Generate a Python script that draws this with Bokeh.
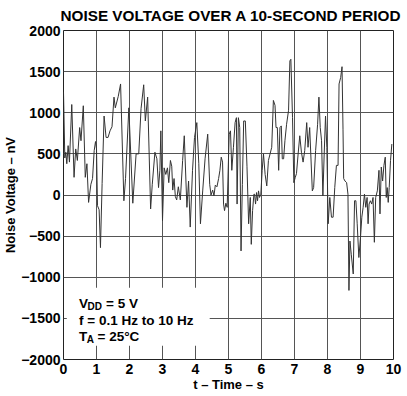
from bokeh.plotting import figure
from bokeh.models import FixedTicker, BoxAnnotation, Label
from bokeh.embed import file_html
from bokeh.resources import INLINE

# ---- data ----
time_s = [0.00, 0.04, 0.07, 0.10, 0.14, 0.18, 0.25, 0.32, 0.37, 0.42, 0.49, 0.53, 0.60, 0.66, 0.71, 0.76,
          0.83, 0.88, 0.93, 0.97, 1.00, 1.03, 1.08, 1.12, 1.17, 1.23, 1.29, 1.35, 1.41, 1.47, 1.53, 1.57,
          1.66, 1.73, 1.83, 1.88, 1.98, 2.10, 2.20, 2.28, 2.35, 2.43, 2.48, 2.55, 2.64, 2.69, 2.77, 2.83,
          2.88, 2.92, 2.95, 3.00, 3.05, 3.10, 3.15, 3.19, 3.24, 3.28, 3.31, 3.35, 3.39, 3.43, 3.48, 3.54,
          3.61, 3.66, 3.74, 3.79, 3.84, 3.91, 3.97, 4.04, 4.10, 4.15, 4.22, 4.29, 4.37, 4.43, 4.47, 4.52,
          4.56, 4.60, 4.65, 4.70, 4.74, 4.78, 4.82, 4.85, 4.88, 4.92, 4.96, 5.02, 5.06, 5.10, 5.15, 5.20,
          5.24, 5.26, 5.30, 5.34, 5.38, 5.42, 5.46, 5.51, 5.56, 5.61, 5.66, 5.69, 5.73, 5.77, 5.79, 5.82,
          5.85, 5.88, 5.91, 5.94, 5.98, 6.02, 6.06, 6.11, 6.16, 6.21, 6.26, 6.31, 6.36, 6.41, 6.44, 6.48,
          6.52, 6.56, 6.60, 6.63, 6.67, 6.71, 6.76, 6.82, 6.86, 6.89, 6.94, 6.98, 7.02, 7.06, 7.11, 7.16,
          7.21, 7.26, 7.31, 7.37, 7.41, 7.46, 7.54, 7.58, 7.64, 7.70, 7.74, 7.78, 7.82, 7.86, 7.90, 7.94,
          7.98, 8.02, 8.07, 8.12, 8.17, 8.22, 8.27, 8.32, 8.35, 8.40, 8.44, 8.47, 8.49, 8.53, 8.58, 8.62,
          8.65, 8.68, 8.72, 8.78, 8.82, 8.86, 8.90, 8.95, 9.00, 9.04, 9.08, 9.12, 9.16, 9.20, 9.23, 9.26,
          9.30, 9.34, 9.38, 9.42, 9.46, 9.51, 9.56, 9.59, 9.63, 9.67, 9.71, 9.75, 9.78, 9.81, 9.84, 9.87,
          9.91, 9.95]
noise_nv = [1250, 450, 520, 380, 600, 400, 1100, 215, 560, 420, 820, 660, 1085, 215, 380, -90,
            130, 200, 540, 650, 560, -130, -180, -640, 140, 960, 700, 700, 780, 830, 1190, 1060,
            1200, 1350, -70, 200, 1060, -100, 500, 500, 1050, 1340, 900, 1190, -170, 130, 520, 440,
            90, 300, 780, -310, 330, 250, 330, 150, 420, 350, 60, 200, -20, -60, 100, -60,
            420, 720, -150, 170, -390, 300, 700, 880, 380, -350, 60, 440, 740, 130, 0, 60,
            -10, 120, 100, 200, 300, 460, 400, -110, -190, -100, -150, 740, 780, 300, 580, 880,
            940, -110, 940, 820, -680, 130, 900, 900, 350, -350, -30, -600, -190, 10, 10, -110,
            30, -70, 50, -30, 10, 300, 500, 250, 110, 420, 500, 580, 1150, 1090, 820, 820,
            300, 820, 840, 440, 440, 660, 860, 1030, 1630, 1650, 940, 150, 210, 260, 500, 720,
            520, 400, 540, 880, 580, 820, 50, 90, 540, 860, 1190, 820, 660, -10, 500, 960,
            580, -350, -30, -270, -270, 90, 360, 360, 1350, 1430, 1560, 800, 200, 170, 150, 10,
            -1160, -560, -720, -960, -70, -70, -350, -760, -515, -270, -150, 10, -150, -30, -350, -110,
            -70, -110, -30, -575, -30, 50, 300, -230, 340, 170, 360, 460, -30, 90, -90, 90,
            420, 620]

x_ticks = [0, 1, 2, 3, 4, 5, 6, 7, 8, 9, 10]
x_tick_labels = ["0", "1", "2", "3", "4", "5", "6", "7", "8", "9", "10"]
y_ticks = [-2000, -1500, -1000, -500, 0, 500, 1000, 1500, 2000]
y_tick_labels = ["\u22122000", "\u22121500", "\u22121000", "\u2212500", "0", "500", "1000", "1500", "2000"]

title_text = "NOISE VOLTAGE OVER A 10-SECOND PERIOD"
x_label = "t \u2013 Time \u2013 s"
y_label = "Noise Voltage \u2013 nV"

FONT = "Liberation Sans"

p = figure(width=407, height=396, x_range=(0, 10), y_range=(-2000, 2000),
           output_backend="svg", toolbar_location=None, title=title_text,
           min_border_left=63, min_border_right=14, min_border_top=30, min_border_bottom=37)

p.title.text_font = FONT
p.title.text_font_size = "15.3px"
p.title.text_font_style = "bold"
p.title.text_color = "black"
p.title.align = "left"
p.title.vertical_align = "top"
p.title.offset = -3
p.title.standoff = 10

p.background_fill_color = "white"
p.border_fill_color = "white"
p.outline_line_color = "#222222"
p.outline_line_width = 1

for ax, ticks, labels, lab_text in ((p.xaxis[0], x_ticks, x_tick_labels, x_label),
                                    (p.yaxis[0], y_ticks, y_tick_labels, y_label)):
    ax.ticker = FixedTicker(ticks=ticks)
    ax.major_label_overrides = dict(zip(ticks, labels))
    ax.major_label_text_font = FONT
    ax.major_label_text_font_size = "14px"
    ax.major_label_text_font_style = "bold"
    ax.major_label_text_color = "black"
    ax.major_tick_in = 0
    ax.major_tick_out = 0
    ax.minor_tick_in = 0
    ax.minor_tick_out = 0
    ax.axis_line_color = None
    ax.axis_label = lab_text
    ax.axis_label_text_font = FONT
    ax.axis_label_text_font_size = "13px"
    ax.axis_label_text_font_style = "bold"
    ax.axis_label_text_color = "black"

p.xaxis[0].major_label_standoff = 4
p.xaxis[0].axis_label_standoff = 0
p.yaxis[0].major_label_standoff = 3
p.yaxis[0].axis_label_standoff = 0

p.xgrid.ticker = FixedTicker(ticks=x_ticks)
p.ygrid.ticker = FixedTicker(ticks=y_ticks)
for g in (p.xgrid, p.ygrid):
    g.grid_line_color = "#555555"
    g.grid_line_width = 1
    g.grid_line_alpha = 1

# white backdrop behind the condition text
box = BoxAnnotation(left=0.1, right=4.43, top=-1128, bottom=-1833,
                    fill_color="white", fill_alpha=1, line_color=None, level="underlay")
p.add_layout(box)

p.line(time_s, noise_nv, line_color="#333333", line_width=1)

def lab(x, y, text, size="13.5px", xo=0, yo=0):
    p.add_layout(Label(x=x, y=y, text=text, x_offset=xo, y_offset=yo,
                       text_font=FONT, text_font_size=size, text_font_style="bold",
                       text_color="black", text_baseline="alphabetic", text_align="left"))

# measurement conditions
lab(0.47, -1322, "V")
lab(0.47, -1322, "DD", size="10px", xo=8.6, yo=-3)
lab(0.47, -1322, "= 5 V", xo=27)
lab(0.47, -1529, "f = 0.1 Hz to 10 Hz")
lab(0.47, -1724, "T")
lab(0.47, -1724, "A", size="10px", xo=7.8, yo=-3)
lab(0.47, -1724, "= 25\u00b0C", xo=18.5)

open("out.html", "w").write(file_html(p, INLINE))
